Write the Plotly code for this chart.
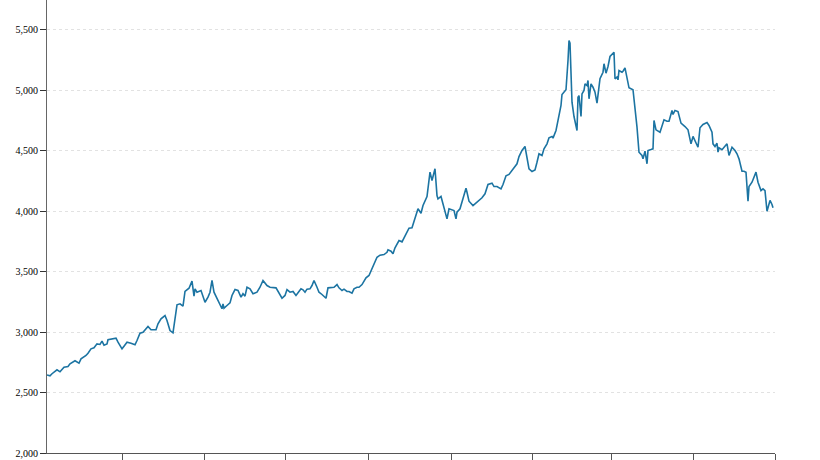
import plotly.graph_objects as go

# x: day offset from series start
days = [0, 3, 5, 10, 13, 17, 21, 23, 28, 32, 34, 39, 41, 44, 47, 50, 53, 55, 57, 60,
        61, 65, 69, 71, 75, 77, 80, 84, 88, 90, 93, 96, 99, 101, 104, 109, 111, 114, 118, 120,
        123, 126, 130, 133, 136, 138, 142, 145, 147, 148, 150, 154, 158, 161, 163, 165, 167, 170, 173, 175,
        176, 177, 180, 183, 185, 188, 191, 194, 196, 198, 200, 203, 206, 210, 213, 216, 220, 223, 229, 232,
        235, 238, 240, 243, 246, 249, 251, 254, 256, 258, 260, 263, 265, 267, 270, 272, 275, 279, 281, 285,
        287, 290, 292, 295, 297, 300, 302, 305, 307, 310, 312, 315, 317, 319, 322, 324, 326, 328, 330, 333,
        337, 340, 341, 344, 346, 348, 350, 352, 355, 357, 360, 362, 365, 367, 371, 374, 376, 380, 383, 385,
        386, 388, 390, 391, 394, 396, 398, 400, 402, 406, 407, 409, 410, 413, 416, 419, 420, 422, 426, 428,
        431, 435, 438, 441, 445, 447, 450, 454, 456, 459, 462, 465, 467, 470, 472, 475, 478, 480, 482, 485,
        488, 490, 492, 495, 497, 500, 502, 505, 506, 509, 511, 514, 515, 517, 519, 521, 522, 523, 525, 527,
        530, 531, 532, 534, 535, 537, 538, 540, 541, 542, 544, 546, 548, 550, 551, 553, 556, 557, 559, 561,
        563, 566, 567, 568, 570, 571, 572, 575, 576, 578, 580, 582, 586, 588, 590, 592, 595, 596, 598, 600,
        601, 604, 606, 607, 609, 613, 617, 620, 622, 625, 626, 628, 631, 634, 636, 638, 641, 644, 646, 648,
        651, 653, 656, 660, 662, 665, 666, 668, 670, 671, 672, 675, 677, 680, 682, 685, 688, 690, 692, 695,
        697, 699, 701, 702, 705, 707, 709, 711, 714, 716, 718, 720, 721, 723, 725, 726]

values = [2645, 2638, 2655, 2688, 2671, 2709, 2715, 2737, 2762, 2742, 2778, 2806, 2825, 2861, 2869, 2902, 2897, 2924, 2891, 2902,
          2936, 2944, 2949, 2916, 2861, 2883, 2916, 2907, 2894, 2930, 2990, 2998, 3026, 3045, 3018, 3018, 3068, 3109, 3136, 3095,
          3012, 2993, 3225, 3233, 3213, 3335, 3362, 3420, 3296, 3357, 3329, 3343, 3246, 3288, 3329, 3426, 3329, 3274, 3233, 3192,
          3233, 3197, 3219, 3241, 3302, 3351, 3343, 3288, 3316, 3296, 3370, 3357, 3316, 3329, 3370, 3426, 3384, 3370, 3365, 3316,
          3279, 3302, 3351, 3329, 3335, 3302, 3321, 3357, 3349, 3329, 3354, 3357, 3384, 3426, 3370, 3329, 3310, 3279, 3365, 3370,
          3370, 3392, 3365, 3343, 3354, 3335, 3335, 3321, 3357, 3370, 3370, 3392, 3420, 3448, 3467, 3508, 3550, 3591, 3618, 3635,
          3640, 3659, 3679, 3668, 3646, 3696, 3729, 3756, 3745, 3778, 3817, 3858, 3861, 3921, 4018, 3982, 4045, 4120, 4321, 4252,
          4293, 4349, 4128, 4100, 4120, 4060, 3990, 3935, 4018, 4010, 4004, 3935, 3990, 4018, 4100, 4188, 4155, 4081, 4045, 4059,
          4081, 4109, 4142, 4219, 4230, 4202, 4202, 4183, 4219, 4291, 4302, 4335, 4349, 4390, 4450, 4500, 4533, 4445, 4349, 4326,
          4340, 4403, 4473, 4459, 4514, 4555, 4605, 4616, 4602, 4665, 4762, 4872, 4963, 4982, 5002, 5244, 5409, 5387, 4899, 4781,
          4665, 4940, 4954, 4781, 4968, 4996, 5051, 5037, 5079, 4927, 5051, 5023, 4982, 4891, 4968, 5093, 5147, 5217, 5139, 5194,
          5277, 5304, 5312, 5093, 5106, 5084, 5161, 5147, 5155, 5183, 5093, 5018, 5002, 4858, 4693, 4486, 4459, 4431, 4494, 4390,
          4500, 4508, 4514, 4748, 4671, 4651, 4754, 4742, 4742, 4831, 4798, 4831, 4822, 4726, 4715, 4698, 4671, 4555, 4616, 4577,
          4527, 4688, 4715, 4731, 4707, 4651, 4555, 4533, 4560, 4486, 4522, 4506, 4527, 4555, 4459, 4527, 4500, 4473, 4431, 4329,
          4329, 4321, 4081, 4202, 4238, 4279, 4321, 4238, 4169, 4183, 4169, 3998, 4031, 4087, 4054, 4027]

x_ticks = [75, 157, 238, 321, 404, 485, 564, 646, 728]
y_ticks = [2000, 2500, 3000, 3500, 4000, 4500, 5000, 5500]

fig = go.Figure()
fig.add_trace(go.Scatter(x=days, y=values, mode="lines",
                         line=dict(color="#1c74a2", width=1.6), hoverinfo="skip"))

fig.update_layout(
    width=820, height=460,
    margin=dict(l=47, r=45, t=0, b=7),
    paper_bgcolor="white", plot_bgcolor="white",
    showlegend=False,
    font=dict(family="Liberation Serif, Times New Roman, serif", size=10, color="#000"),
)
fig.update_xaxes(
    range=[0, 728], tickvals=x_ticks, showticklabels=False, automargin=False,
    ticks="outside", ticklen=8, tickcolor="#555", tickwidth=1,
    showline=True, linecolor="#555", linewidth=1,
    showgrid=False, zeroline=False,
)
fig.update_yaxes(
    range=[2000, 2000 + 453 * 500 / 60.5], tickvals=y_ticks, tickformat=",d", automargin=False,
    ticks="outside", ticklen=6, tickcolor="#333", tickwidth=1,
    showline=True, linecolor="#666", linewidth=1,
    showgrid=True, gridcolor="#e2e2e2", gridwidth=1, griddash="3px,3px",
    zeroline=False,
)

fig.write_html("out.html")
